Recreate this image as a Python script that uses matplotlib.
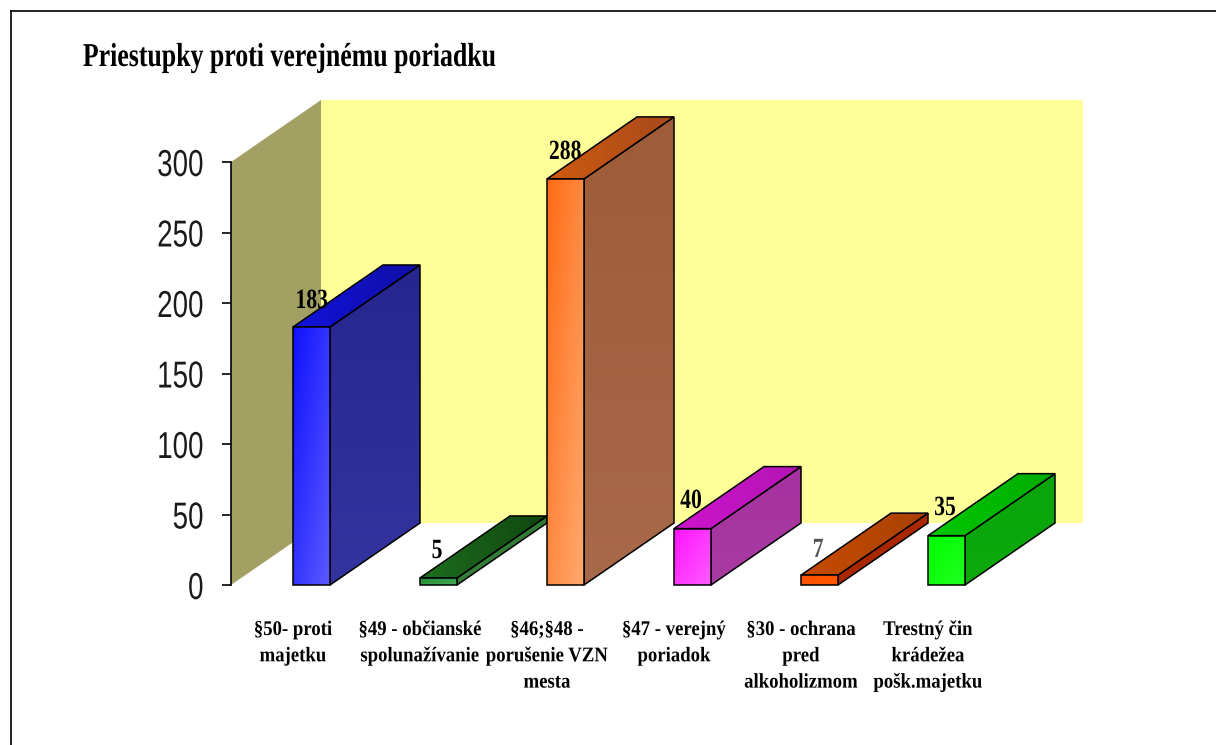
"""3D-look column chart: Priestupky proti verejnemu poriadku."""
import numpy as np
import matplotlib
matplotlib.use('Agg')
import matplotlib.pyplot as plt
from matplotlib.colors import to_rgb
from matplotlib.lines import Line2D
from matplotlib.patches import Polygon
from matplotlib.patheffects import AbstractPathEffect
from matplotlib.transforms import Affine2D

TITLE = "Priestupky proti verejnému poriadku"
categories = [
    "§50- proti\nmajetku",
    "§49 - občianské\nspolunažívanie",
    "§46;§48 -\nporušenie VZN\nmesta",
    "§47 - verejný\nporiadok",
    "§30 - ochrana\npred\nalkoholizmom",
    "Trestný čin\nkrádežea\npošk.majetku",
]
values = [183, 5, 288, 40, 7, 35]
y_ticks = [0, 50, 100, 150, 200, 250, 300]

# colours: front top-left, front bottom-right, roof left, roof right, side top, side bottom
front_a = ['#1010ff', '#1f8a35', '#ff6a14', '#ff14ff', '#ff5000', '#00ff00']
front_b = ['#5a5aff', '#45aa55', '#ffaa70', '#ff5aff', '#ff5a00', '#20ff20']
roof_a = ['#1212dc', '#1e6e1e', '#cd5a0f', '#cd14cd', '#c84b00', '#00c800']
roof_b = ['#0f0fa5', '#0f460f', '#a84a1c', '#b414b4', '#a84105', '#00aa00']
side_a = ['#26268f', '#2e7a34', '#9e5c38', '#a5329f', '#aa2800', '#0aa50a']
side_b = ['#3434a0', '#357f3a', '#a8694a', '#a83aa2', '#aa2800', '#0ca80c']
WALL = '#a3a064'
BACK = '#ffff99'

W, H = 1216, 745
PX_X = 127.0   # pixels per category
PX_Y = 423 / 300.0  # pixels per value unit
X0, Y0 = 311.5, 585
BAR_W = 37 / PX_X
DX, DY = 90 / PX_X, 62 / PX_Y
WALL_X = (231 - X0) / PX_X
BACK_R = (1083 - X0) / PX_X

# baseline pixel positions of the value labels
label_px = [(311.5, 308), (437, 558), (565, 159), (691, 508), (818, 557), (945, 515)]


class Squeeze(AbstractPathEffect):
    """Narrows text horizontally, the reference has stretched-looking glyphs."""
    def __init__(self, sx, anchor='center'):
        super().__init__()
        self.sx = sx
        self.anchor = anchor

    def draw_path(self, renderer, gc, tpath, affine, rgbFace=None):
        ext = tpath.get_extents()
        c = ext.x1 if self.anchor == 'right' else 0.5 * (ext.x0 + ext.x1)
        squeeze = Affine2D().translate(-c, 0).scale(self.sx, 1).translate(c, 0)
        renderer.draw_path(gc, tpath, squeeze + affine, rgbFace)


def gradient_poly(ax, pts, c0, c1, z, mode='v'):
    pts = np.array(pts)
    x0, y0 = pts.min(axis=0)
    x1, y1 = pts.max(axis=0)
    u, v = np.meshgrid(np.linspace(0, 1, 48), np.linspace(0, 1, 48))
    t = {'v': v, 'h': u, 'd': 0.5 * (u + v)}[mode]
    a, b = np.array(to_rgb(c0)), np.array(to_rgb(c1))
    img = a + (b - a) * t[..., None]
    im = ax.imshow(img, extent=(x0, x1, y0, y1), origin='upper', aspect='auto',
                   interpolation='bilinear', zorder=z)
    poly = Polygon(pts, closed=True, facecolor='none', edgecolor='black',
                   linewidth=1.1, zorder=z + 0.1)
    ax.add_patch(poly)
    im.set_clip_path(poly)


fig = plt.figure(figsize=(W / 100, H / 100), dpi=100, facecolor='white')
ax = fig.add_axes([0, 0, 1, 1])
ax.patch.set_alpha(0)

# walls
ax.add_patch(Polygon([(WALL_X + DX, DY), (BACK_R, DY), (BACK_R, 300 + DY), (WALL_X + DX, 300 + DY)],
                     facecolor=BACK, edgecolor='none', zorder=1))
ax.add_patch(Polygon([(WALL_X, 0), (WALL_X + DX, DY), (WALL_X + DX, 300 + DY), (WALL_X, 300)],
                     facecolor=WALL, edgecolor='none', zorder=1))

# bars
for i, val in enumerate(values):
    l, r = i - BAR_W / 2, i + BAR_W / 2
    z = 2 + i
    gradient_poly(ax, [(r, 0), (r + DX, DY), (r + DX, val + DY), (r, val)],
                  side_a[i], side_b[i], z)
    gradient_poly(ax, [(l, val), (r, val), (r + DX, val + DY), (l + DX, val + DY)],
                  roof_a[i], roof_b[i], z + 0.2, mode='h')
    gradient_poly(ax, [(l, 0), (r, 0), (r, val), (l, val)],
                  front_a[i], front_b[i], z + 0.4, mode='d')

# value labels
for i, val in enumerate(values):
    px, py = label_px[i]
    ax.text((px - X0) / PX_X, (Y0 - py) / PX_Y, str(val), ha='center', va='baseline',
            family='Liberation Serif', fontweight='bold', fontsize=20,
            color='#555555' if val == 7 else 'black', zorder=20,
            path_effects=[Squeeze(0.78)])

# category labels, centred under left edge of the bars
for i, cat in enumerate(categories):
    ax.text(i - BAR_W / 2, (Y0 - 620) / PX_Y, cat, ha='center', va='top',
            family='Liberation Serif', fontweight='bold', fontsize=15,
            linespacing=1.42, color='black', zorder=20,
            path_effects=[Squeeze(0.9)])

ax.set_xlim(-X0 / PX_X, (W - X0) / PX_X)
ax.set_ylim((Y0 - H) / PX_Y, Y0 / PX_Y)

# value axis on the front of the side wall
for name in ['top', 'right', 'bottom']:
    ax.spines[name].set_visible(False)
ax.spines['left'].set_position(('data', WALL_X))
ax.spines['left'].set_bounds(0, 300)
ax.spines['left'].set_linewidth(1.2)
ax.spines['left'].set_zorder(10)
ax.set_xticks([])
ax.set_yticks(y_ticks)
ax.tick_params(axis='y', direction='out', length=6.5, width=1.2, pad=13)
for lab in ax.get_yticklabels():
    lab.set_family('Liberation Sans')
    lab.set_fontsize(27)
    lab.set_color('#1a1a1a')
    lab.set_path_effects([Squeeze(0.74, anchor='right')])

fig.text(290 / W, 1 - 66 / H, TITLE, ha='center', va='baseline', family='Liberation Serif',
         fontweight='bold', fontsize=24, color='black', path_effects=[Squeeze(0.775)])

# frame of the pasted picture
fig.add_artist(Line2D([11 / W, 1], [1 - 11 / H, 1 - 11 / H], color='black', lw=1.2))
fig.add_artist(Line2D([11 / W, 11 / W], [0, 1 - 11 / H], color='black', lw=1.2))

fig.savefig('out.png', dpi=100)
